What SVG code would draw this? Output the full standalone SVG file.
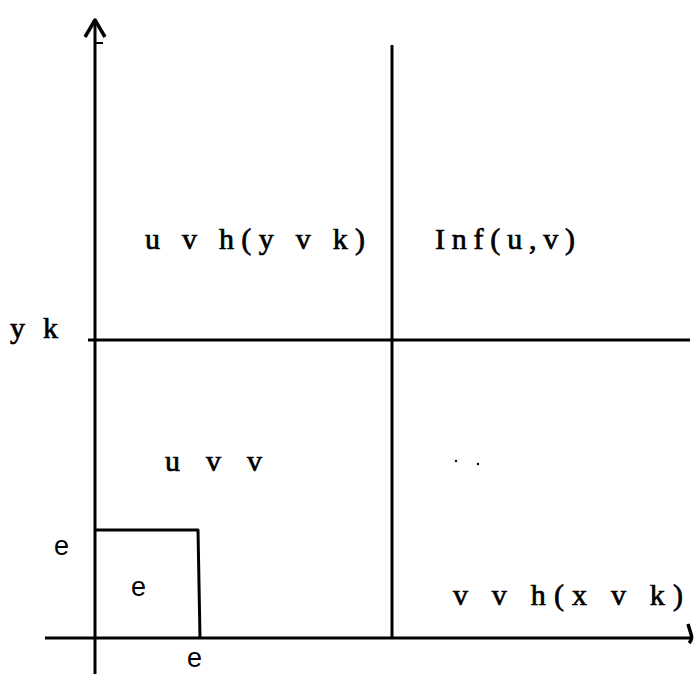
<svg xmlns="http://www.w3.org/2000/svg" width="699" height="674" viewBox="0 0 699 674">
<style>
.ln{stroke:#000;stroke-width:3;fill:none;stroke-linecap:butt;stroke-linejoin:round}
.tt{font-family:"Liberation Serif","Times New Roman",serif;font-size:30px;fill:#000;stroke:#000;stroke-width:0.7}
.ee{font-family:"Liberation Sans",Arial,sans-serif;font-size:27px;fill:#000}
</style>
<rect width="699" height="674" fill="#fff"/>
<g id="connectors">
<path class="ln" d="M95 674 L95 20"/>
<path class="ln" d="M85 37 L95 20 L105 37" style="stroke-width:3.5"/>
<path class="ln" d="M96 43 L103 43" style="stroke-width:2"/>
<path class="ln" d="M45 638 L692 638"/>
<path class="ln" d="M688 624 L691 634 Q693 639 689 643" style="stroke-width:3.5"/>
<path class="ln" d="M392 45 L392 638"/>
<path class="ln" d="M88 340 L690 340"/>
<path class="ln" d="M95 530 L198 530 L200 638"/>
</g>
<g id="region-top-left"><text class="tt" x="145" y="249" textLength="220" lengthAdjust="spacing">u v h(y v k)</text></g>
<g id="region-top-right"><text class="tt" x="435" y="249" textLength="140" lengthAdjust="spacing">Inf(u,v)</text></g>
<g id="label-yk"><text class="tt" x="10" y="338" textLength="48" lengthAdjust="spacing">y k</text></g>
<g id="region-bottom-left"><text class="tt" x="165" y="471" textLength="97" lengthAdjust="spacing">u v v</text></g>
<g id="region-bottom-right"><text class="tt" x="453" y="605" textLength="230" lengthAdjust="spacing">v v h(x v k)</text></g>
<g id="specks"><circle cx="456" cy="461" r="1.2" fill="#000"/><circle cx="478" cy="464" r="1.2" fill="#000"/></g>
<g id="label-e-left"><text class="ee" x="54" y="555">e</text></g>
<g id="label-e-inside"><text class="ee" x="131" y="596">e</text></g>
<g id="label-e-below"><text class="ee" x="187" y="667">e</text></g>
</svg>
